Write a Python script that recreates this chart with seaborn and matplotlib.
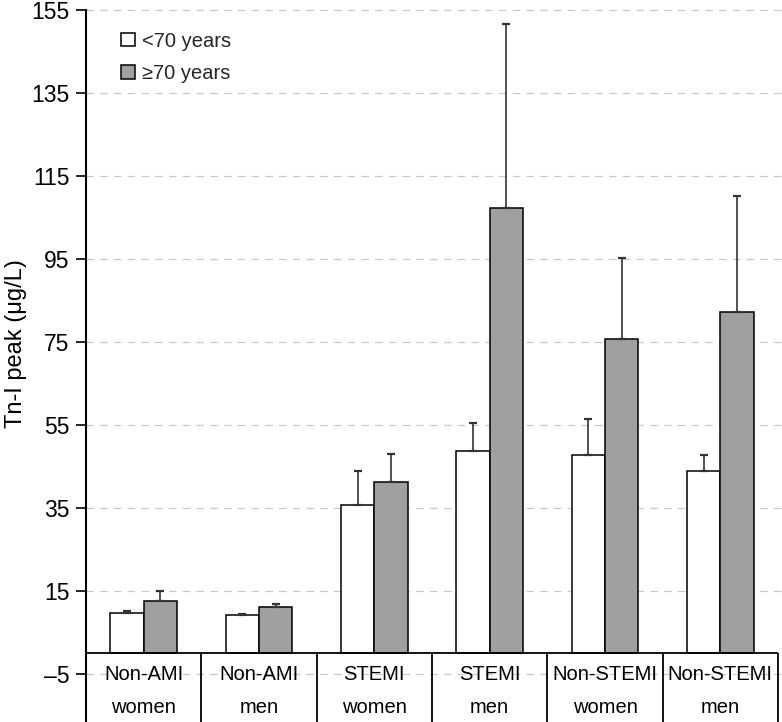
import numpy as np
import pandas as pd
import seaborn as sns
import matplotlib.pyplot as plt

diagnosis = ['Non-AMI', 'Non-AMI', 'STEMI', 'STEMI', 'Non-STEMI', 'Non-STEMI']
sex = ['women', 'men', 'women', 'men', 'women', 'men']
age_groups = ['<70 years', '≥70 years']

under70 = [9.7, 9.1, 35.7, 48.8, 47.6, 43.8]
under70_err = [0.3, 0.2, 8.2, 6.6, 8.7, 3.8]
over70 = [12.6, 11.1, 41.1, 107.2, 75.6, 82.2]
over70_err = [2.4, 0.6, 6.9, 44.4, 19.7, 27.9]

yticks = list(range(-5, 156, 20))

groups = [d + ' ' + s for d, s in zip(diagnosis, sex)]
df = pd.DataFrame({
    'group': groups * 2,
    'age': [age_groups[0]] * 6 + [age_groups[1]] * 6,
    'tni': under70 + over70,
})

sns.set_theme(style='white')
plt.rcParams['font.family'] = ['Liberation Sans', 'DejaVu Sans']

fig = plt.figure(figsize=(7.82, 7.22), dpi=100)
ax = fig.add_axes([86 / 782, 0, 1 - 86 / 782, 1])

sns.barplot(
    data=df,
    x='group',
    y='tni',
    hue='age',
    order=groups,
    hue_order=age_groups,
    palette={'<70 years': 'white', '≥70 years': '#a0a0a0'},
    edgecolor='black',
    linewidth=1.1,
    width=0.58,
    errorbar=None,
    ax=ax,
)

# one-sided error bars
for cont, errs in zip(ax.containers, [under70_err, over70_err]):
    xs = [b.get_x() + b.get_width() / 2 for b in cont]
    tops = [b.get_height() for b in cont]
    ax.errorbar(xs, tops, yerr=[np.zeros(len(errs)), errs], fmt='none',
                ecolor='#333333', elinewidth=1.2, capsize=2.6, capthick=1.6,
                zorder=1.5)

ax.set_xlim(-0.5, 5.535)
ax.set_ylim(-16.7, 157.5)
ax.set_yticks(yticks)
ax.set_yticklabels([str(t).replace('-', '\u2013') for t in yticks], fontsize=16.5)
ax.tick_params(axis='y', direction='out', length=7, width=1.2, pad=5,
               left=True, colors='black')
ax.tick_params(axis='x', bottom=False, labelbottom=False)
ax.set_xlabel('')
ax.set_ylabel('Tn-I peak (μg/L)', fontsize=17, color='black')
ax.yaxis.set_label_coords(-0.085, 0.524)

ax.grid(axis='y', color='#c8c8c8', linestyle=(0, (6, 5)), linewidth=0.9)
ax.set_axisbelow(True)

for side in ['top', 'right', 'bottom']:
    ax.spines[side].set_visible(False)
ax.spines['left'].set_bounds(-16.7, 155)
ax.spines['left'].set_color('black')
ax.spines['left'].set_linewidth(1.5)

# category table below zero
ax.hlines(0, -0.5, 5.5, color='black', linewidth=1.3, zorder=3)
ax.vlines(np.arange(-0.5, 6.0, 1.0), -16.7, 0, color='black', linewidth=1.3, zorder=3)
for i, (d, s) in enumerate(zip(diagnosis, sex)):
    ax.text(i, -6.5, d, ha='center', va='baseline', fontsize=14.5, color='black')
    ax.text(i, -14.5, s, ha='center', va='baseline', fontsize=14.5, color='black')

handles, labels = ax.get_legend_handles_labels()
ax.legend(handles, labels, loc='upper left', bbox_to_anchor=(0.051, 0.956),
          frameon=False, fontsize=14.5, handlelength=0.65, handleheight=0.65,
          handletextpad=0.35, labelspacing=0.65, borderpad=0, borderaxespad=0)

fig.savefig('out.png', dpi=100)
